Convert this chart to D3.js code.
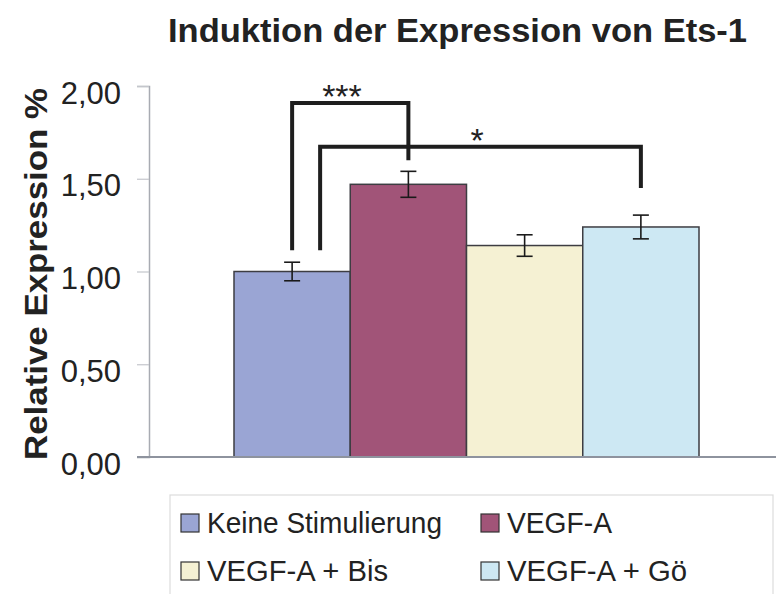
<!DOCTYPE html>
<html>
<head>
<meta charset="utf-8">
<script src="https://cdn.jsdelivr.net/npm/d3@7"></script>
<style>
	body { margin: 0; background: #fff; }
	svg { display: block; font-family: "Liberation Sans", Arial, sans-serif; }
</style>
</head>
<body>
<div class="chart"></div>
<script>
const categories = ["Keine Stimulierung", "VEGF-A", "VEGF-A + Bis", "VEGF-A + Gö"];
const values = [1.00, 1.47, 1.14, 1.24];
const errors = [0.05, 0.07, 0.058, 0.064];
const colors = ["#9aa5d4", "#a15478", "#f5f1d3", "#cde8f3"];
const yTicks = [0, 0.5, 1, 1.5, 2];

// significance brackets
const sigFrom = ["Keine Stimulierung", "Keine Stimulierung"];
const sigTo = ["VEGF-A", "VEGF-A + Gö"];
const sigLevel = [1.908, 1.673];
const sigLeftEnd = [1.115, 1.115];
const sigRightEnd = [1.60, 1.45];
const sigLabel = ["***", "*"];

makeChart();

function makeChart() {
	const width = 776;
	const height = 594;
	const svg = d3.select('.chart')
		.append('svg')
		.attr('width', width)
		.attr('height', height);

	const x = d3.scaleBand()
		.domain(categories)
		.range([234, 699])
		.padding(0);
	const y = d3.scaleLinear()
		.domain([0, 2])
		.range([457, 86]);

	// title
	svg.append('text')
		.text("Induktion der Expression von Ets-1")
		.attr("x", 168)
		.attr("y", 42)
		.attr("font-size", "33px")
		.attr("font-weight", "bold")
		.attr("fill", "#222")
		.attr("textLength", 579)
		.attr("lengthAdjust", "spacingAndGlyphs");

	// y axis label
	svg.append('text')
		.text("Relative Expression %")
		.attr("transform", "translate(47,460) rotate(-90)")
		.attr("font-size", "31px")
		.attr("font-weight", "bold")
		.attr("fill", "#222")
		.attr("textLength", 372)
		.attr("lengthAdjust", "spacingAndGlyphs");

	// y axis
	const yAxis = svg.append('g')
		.attr("transform", "translate(149,0)")
		.call(d3.axisLeft(y)
			.tickValues(yTicks)
			.tickSize(12)
			.tickPadding(16)
			.tickFormat(d => d3.format(".2f")(d).replace(".", ",")));
	yAxis.select(".domain").attr("stroke", "#a8abb2").attr("stroke-width", 1.5);
	yAxis.selectAll(".tick line").attr("stroke", "#c4c6cc").attr("stroke-width", 1.2);
	yAxis.selectAll(".tick text")
		.attr("font-size", "31px")
		.attr("font-family", "Liberation Sans, Arial, sans-serif")
		.attr("fill", "#222")
		.attr("dy", "0.55em");

	// bars
	svg.selectAll('.bar')
		.data(categories)
		.enter()
		.append('rect')
		.attr("class", "bar")
		.attr("x", d => x(d))
		.attr("y", (d, i) => y(values[i]))
		.attr("width", x.bandwidth())
		.attr("height", (d, i) => y(0) - y(values[i]))
		.attr("fill", (d, i) => colors[i])
		.attr("stroke", "#3d3d42")
		.attr("stroke-width", 1.5);

	// x axis baseline
	svg.append('line')
		.attr("x1", 137)
		.attr("x2", width)
		.attr("y1", y(0))
		.attr("y2", y(0))
		.attr("stroke", "#8e939e")
		.attr("stroke-width", 2);

	// error bars
	const err = svg.selectAll('.err')
		.data(categories)
		.enter()
		.append('g')
		.attr("class", "err")
		.attr("stroke", "#1a1a1a")
		.attr("stroke-width", 1.6);
	err.append('line')
		.attr("x1", d => x(d) + x.bandwidth() / 2)
		.attr("x2", d => x(d) + x.bandwidth() / 2)
		.attr("y1", (d, i) => y(values[i] + errors[i]))
		.attr("y2", (d, i) => y(values[i] - errors[i]));
	[1, -1].forEach(s => {
		err.append('line')
			.attr("x1", d => x(d) + x.bandwidth() / 2 - 8)
			.attr("x2", d => x(d) + x.bandwidth() / 2 + 8)
			.attr("y1", (d, i) => y(values[i] + s * errors[i]))
			.attr("y2", (d, i) => y(values[i] + s * errors[i]));
	});

	// significance brackets
	const legOffset = [0, 28];
	sigLabel.forEach((lab, i) => {
		const x1 = x(sigFrom[i]) + x.bandwidth() / 2 + legOffset[i];
		const x2 = x(sigTo[i]) + x.bandwidth() / 2;
		const pts = [[x1, y(sigLeftEnd[i])], [x1, y(sigLevel[i])], [x2, y(sigLevel[i])], [x2, y(sigRightEnd[i])]];
		svg.append('path')
			.attr("d", d3.line()(pts))
			.attr("fill", "none")
			.attr("stroke", "#1e1e1e")
			.attr("stroke-width", 4)
			.attr("stroke-linejoin", "miter");
		svg.append('text')
			.text(lab)
			.attr("x", i == 0 ? 342 : 477)
			.attr("y", y(sigLevel[i]) + 5)
			.attr("text-anchor", "middle")
			.attr("font-size", "34px")
			.attr("fill", "#222");
	});

	// legend
	svg.append('rect')
		.attr("x", 170)
		.attr("y", 495)
		.attr("width", 603)
		.attr("height", 120)
		.attr("fill", "#fff")
		.attr("stroke", "#dcdcdc")
		.attr("stroke-width", 1.2);
	const legX = [181, 481];
	const legY = [514, 562];
	const leg = svg.selectAll('.leg')
		.data(categories)
		.enter()
		.append('g')
		.attr("class", "leg")
		.attr("transform", (d, i) => "translate(" + legX[i % 2] + "," + legY[Math.floor(i / 2)] + ")");
	leg.append('rect')
		.attr("width", 18)
		.attr("height", 18)
		.attr("fill", (d, i) => colors[i])
		.attr("stroke", "#333")
		.attr("stroke-width", 1.2);
	leg.append('text')
		.text(d => d)
		.attr("x", 26)
		.attr("y", 19)
		.attr("font-size", "29px")
		.attr("fill", "#222")
		.attr("textLength", (d, i) => [235, 105, 181, 180][i])
		.attr("lengthAdjust", "spacingAndGlyphs");
}
</script>
</body>
</html>
